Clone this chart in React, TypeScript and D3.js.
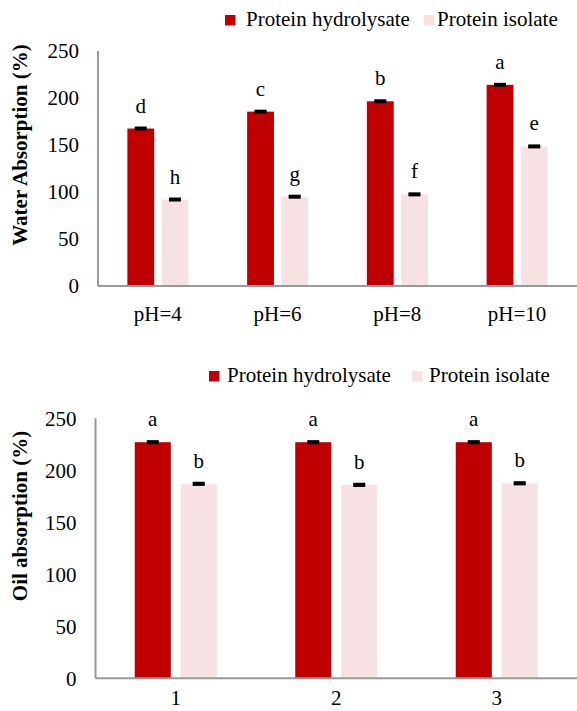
import React from "react";
import * as d3 from "d3";

// water absorption chart
const phCategories = ["pH=4", "pH=6", "pH=8", "pH=10"];
const waterHydrolysate = [167.5, 185.5, 196.5, 214];
const waterIsolate = [92, 95, 97.5, 148.5];
const waterHydroErr = [0.8, 0.8, 0.8, 0.8];
const waterIsoErr = [0.8, 0.8, 0.8, 0.8];
const waterHydroLetters = ["d", "c", "b", "a"];
const waterIsoLetters = ["h", "g", "f", "e"];

// oil absorption chart
const oilCategories = ["1", "2", "3"];
const oilHydrolysate = [227, 227, 227];
const oilIsolate = [187, 186, 187.5];
const oilHydroErr = [0.8, 0.8, 0.8];
const oilIsoErr = [0.8, 0.8, 0.8];
const oilHydroLetters = ["a", "a", "a"];
const oilIsoLetters = ["b", "b", "b"];

const seriesNames = ["Protein hydrolysate", "Protein isolate"];
const yTicks = [0, 50, 100, 150, 200, 250];

const RED = "#C00000";
const PINK = "#F6E2E2";
const FONT = "'Liberation Serif', 'Times New Roman', serif";

type PanelProps = {
  categories: string[];
  values: number[][];
  errors: number[][];
  letters: string[][];
  title: string;
  left: number;
  right: number;
  top: number;
  bottom: number;
  halfGroup: number;
  titleY: number;
  labelY: number;
  legend: { x: number[]; textX: number[]; y: number };
};

function Panel(p: PanelProps) {
  const x = d3.scaleBand().domain(p.categories).range([p.left, p.right]);
  const x1 = d3
    .scaleBand()
    .domain(seriesNames)
    .range([-p.halfGroup, p.halfGroup])
    .paddingInner(0.215);
  const y = d3.scaleLinear().domain([0, 250]).range([p.bottom, p.top]);
  const colors = [RED, PINK];

  return (
    <g>
      {/* legend */}
      {seriesNames.map((s, i) => (
        <g key={s}>
          <rect x={p.legend.x[i]} y={p.legend.y - 11} width={10.5} height={10.5} fill={colors[i]} />
          <text x={p.legend.textX[i]} y={p.legend.y} fontSize={21} fill="#000">
            {s}
          </text>
        </g>
      ))}

      {/* y tick labels */}
      {yTicks.map((t) => (
        <text key={t} x={p.left - 19} y={y(t)} dy="0.35em" textAnchor="end" fontSize={21}>
          {t}
        </text>
      ))}

      {/* bars */}
      {p.categories.map((c, ci) =>
        seriesNames.map((s, si) => {
          const v = p.values[si][ci];
          const e = p.errors[si][ci];
          const bx = x(c)! + x.bandwidth() / 2 + x1(s)!;
          const cx = bx + x1.bandwidth() / 2;
          return (
            <g key={c + s}>
              <rect x={bx} y={y(v)} width={x1.bandwidth()} height={p.bottom - y(v)} fill={colors[si]} />
              <line x1={cx} x2={cx} y1={y(v + e)} y2={y(v - e)} stroke="#000" strokeWidth={2} />
              <line x1={cx - 6} x2={cx + 6} y1={y(v + e)} y2={y(v + e)} stroke="#000" strokeWidth={2.5} />
              <line x1={cx - 6} x2={cx + 6} y1={y(v - e)} y2={y(v - e)} stroke="#000" strokeWidth={2.5} />
              <text x={cx} y={y(v) - 16} textAnchor="middle" fontSize={21}>
                {p.letters[si][ci]}
              </text>
            </g>
          );
        })
      )}

      {/* axes */}
      <line x1={p.left} x2={p.left} y1={p.top} y2={p.bottom} stroke="#999" strokeWidth={2} />
      <line x1={p.left} x2={p.right} y1={p.bottom} y2={p.bottom} stroke="#999" strokeWidth={2} />

      {/* x labels */}
      {p.categories.map((c) => (
        <text key={c} x={x(c)! + x.bandwidth() / 2} y={p.labelY} textAnchor="middle" fontSize={21}>
          {c}
        </text>
      ))}

      {/* y title */}
      <text
        transform={`translate(27,${p.titleY}) rotate(-90)`}
        textAnchor="middle"
        fontSize={21}
        fontWeight="bold"
      >
        {p.title}
      </text>
    </g>
  );
}

export default function App() {
  return (
    <svg
      width={577}
      height={711}
      style={{ position: "absolute", left: 0, top: 0, background: "#fff" }}
      fontFamily={FONT}
    >
      <Panel
        categories={phCategories}
        values={[waterHydrolysate, waterIsolate]}
        errors={[waterHydroErr, waterIsoErr]}
        letters={[waterHydroLetters, waterIsoLetters]}
        title="Water Absorption (%)"
        left={98}
        right={577}
        top={51}
        bottom={286}
        halfGroup={30.5}
        titleY={145}
        labelY={321}
        legend={{ x: [225, 424], textX: [246, 437], y: 26 }}
      />
      <Panel
        categories={oilCategories}
        values={[oilHydrolysate, oilIsolate]}
        errors={[oilHydroErr, oilIsoErr]}
        letters={[oilHydroLetters, oilIsoLetters]}
        title="Oil absorption (%)"
        left={95.5}
        right={577}
        top={418.3}
        bottom={678.3}
        halfGroup={41}
        titleY={516}
        labelY={705}
        legend={{ x: [209, 412], textX: [227, 429], y: 382 }}
      />
    </svg>
  );
}
